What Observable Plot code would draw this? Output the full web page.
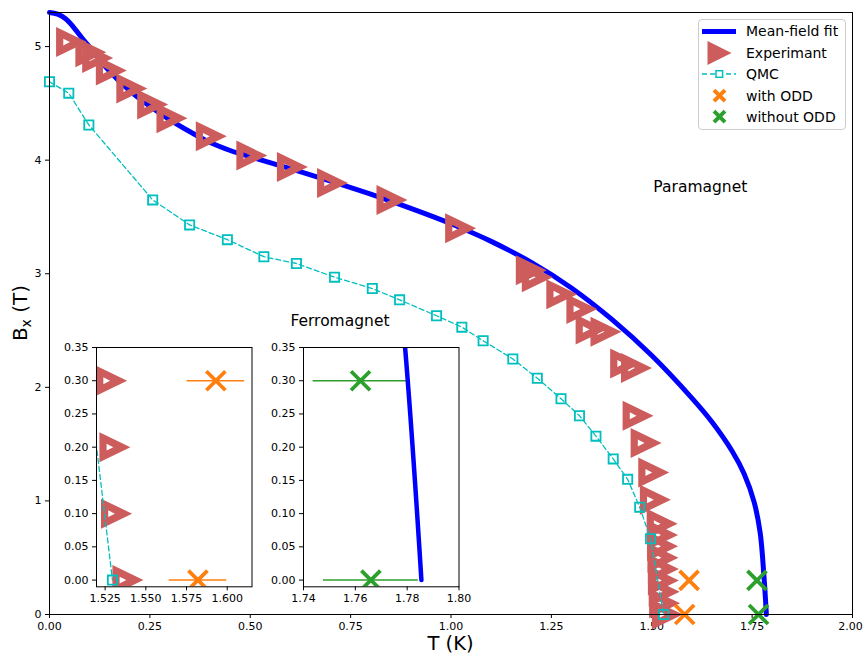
<!DOCTYPE html>
<html><head><meta charset="utf-8">
<script src="https://cdn.jsdelivr.net/npm/d3@7"></script>
<script src="https://cdn.jsdelivr.net/npm/@observablehq/plot@0.6"></script>
<style>
body{margin:0;background:#fff;font-family:"DejaVu Sans",sans-serif;}
#wrap{position:relative;width:863px;height:654px;overflow:hidden;}
#wrap svg{position:absolute;overflow:visible;}
#legend{position:absolute;left:698px;top:19px;width:146px;height:109px;border:1px solid #cccccc;border-radius:4px;background:rgba(255,255,255,0.85);}
#legend svg{position:absolute;left:0;top:0;}
</style></head><body><div id="wrap"></div>
<script>
// ---- data ----
const fitT = [0.00, 0.02, 0.04, 0.06, 0.08, 0.10, 0.125, 0.15, 0.20, 0.25, 0.30, 0.35, 0.40, 0.45, 0.50, 0.60, 0.70, 0.80, 0.90, 1.00, 1.10, 1.20, 1.30, 1.40, 1.50, 1.60, 1.65, 1.70, 1.73, 1.755, 1.77, 1.7792, 1.7855];
const fitB = [5.300, 5.285, 5.245, 5.170, 5.080, 4.995, 4.885, 4.780, 4.610, 4.475, 4.355, 4.250, 4.155, 4.085, 4.030, 3.925, 3.815, 3.700, 3.575, 3.440, 3.285, 3.100, 2.875, 2.600, 2.280, 1.905, 1.695, 1.440, 1.240, 0.990, 0.720, 0.350, 0.000];

const expT = [0.055, 0.103, 0.120, 0.154, 0.205, 0.257, 0.305, 0.403, 0.504, 0.605, 0.705, 0.853, 1.024, 1.200, 1.215, 1.276, 1.326, 1.349, 1.386, 1.435, 1.462, 1.466, 1.486, 1.505, 1.509, 1.526, 1.527, 1.527, 1.528, 1.529, 1.529, 1.531, 1.532, 1.539];
const expB = [5.04, 4.95, 4.90, 4.79, 4.63, 4.49, 4.37, 4.21, 4.04, 3.94, 3.80, 3.65, 3.40, 3.03, 2.97, 2.82, 2.69, 2.51, 2.49, 2.21, 2.17, 1.75, 1.51, 1.25, 1.01, 0.80, 0.70, 0.60, 0.50, 0.40, 0.30, 0.20, 0.10, 0.00];

const qmcT = [0.000, 0.048, 0.098, 0.257, 0.349, 0.443, 0.534, 0.615, 0.710, 0.804, 0.872, 0.964, 1.027, 1.080, 1.154, 1.215, 1.274, 1.320, 1.361, 1.404, 1.440, 1.470, 1.497, 1.5295];
const qmcB = [4.69, 4.59, 4.31, 3.65, 3.43, 3.30, 3.15, 3.09, 2.97, 2.87, 2.77, 2.63, 2.53, 2.41, 2.25, 2.08, 1.90, 1.75, 1.57, 1.37, 1.19, 0.945, 0.667, 0.00];

const oddT = [1.593, 1.582];
const oddB = [0.30, 0.00];
const oddErr = [0.0177, 0.0177];
const noOddT = [1.762, 1.766];
const noOddB = [0.30, 0.00];
const noOddErr = [0.0183, 0.0183];

const mainXTicks = [0, 0.25, 0.5, 0.75, 1.0, 1.25, 1.5, 1.75, 2.0];
const mainYTicks = [0, 1, 2, 3, 4, 5];
const inset1XTicks = [1.525, 1.55, 1.575, 1.6];
const inset2XTicks = [1.74, 1.76, 1.78, 1.80];
const insetYTicks = [0, 0.05, 0.10, 0.15, 0.20, 0.25, 0.30, 0.35];

const regionLabels = ["Paramagnet", "Ferromagnet"];
const regionT = [1.504, 0.600];
const regionB = [3.762, 2.58];

const legendLabels = ["Mean-field fit", "Experimant", "QMC", "with ODD", "without ODD"];

// ---- tables ----
const fit = fitT.map((t, i) => ({T: t, B: fitB[i]}));
const exp = expT.map((t, i) => ({T: t, B: expB[i]}));
const qmc = qmcT.map((t, i) => ({T: t, B: qmcB[i]}));
const odd = oddT.map((t, i) => ({T: t, B: oddB[i], e: oddErr[i]}));
const noOdd = noOddT.map((t, i) => ({T: t, B: noOddB[i], e: noOddErr[i]}));
const regions = regionLabels.map((s, i) => ({s, T: regionT[i], B: regionB[i]}));

// ---- symbols ----
const triSym = {draw(c) {
  c.moveTo(-15.5, -15); c.lineTo(15.5, 0); c.lineTo(-15.5, 15); c.closePath();
  c.moveTo(-8.3, 3.4); c.lineTo(-1.6, 0); c.lineTo(-8.3, -3.4); c.closePath();
}};
const sqSym = {draw(c) { c.moveTo(-4.6, -4.6); c.lineTo(4.6, -4.6); c.lineTo(4.6, 4.6); c.lineTo(-4.6, 4.6); c.closePath(); }};
const xSym = {draw(c) { c.moveTo(-9.5, -9.5); c.lineTo(9.5, 9.5); c.moveTo(-9.5, 9.5); c.lineTo(9.5, -9.5); }};

const RED = "#cd5c5c", CYAN = "#00bfbf", ORANGE = "#ff7f0e", GREEN = "#2ca02c";
const wrap = document.getElementById("wrap");

// ---- main chart ----
const main = Plot.plot({
  width: 863, height: 654,
  marginLeft: 49, marginRight: 11, marginTop: 12, marginBottom: 40,
  style: {background: "transparent", fontFamily: "DejaVu Sans", fontSize: "11px", color: "black", overflow: "visible"},
  x: {domain: [0, 2]},
  y: {domain: [0, 5.3]},
  marks: [
    Plot.axisX({ticks: mainXTicks, tickFormat: d3.format(".2f"), tickSize: 4, tickPadding: 3.5, label: null}),
    Plot.axisY({ticks: mainYTicks, tickFormat: d3.format("d"), tickSize: 4, tickPadding: 4, label: null}),
    Plot.line(fit, {x: "T", y: "B", stroke: "blue", strokeWidth: 5, curve: "catmull-rom"}),
    Plot.dot(exp, {x: "T", y: "B", symbol: triSym, fill: RED, stroke: "none"}),
    Plot.line(qmc, {x: "T", y: "B", stroke: CYAN, strokeWidth: 1.3, strokeDasharray: "5,3"}),
    Plot.dot(qmc, {x: "T", y: "B", symbol: sqSym, fill: "none", stroke: CYAN, strokeWidth: 1.8}),
    Plot.dot(odd, {x: "T", y: "B", symbol: xSym, fill: "none", stroke: ORANGE, strokeWidth: 3.8}),
    Plot.dot(noOdd, {x: "T", y: "B", symbol: xSym, fill: "none", stroke: GREEN, strokeWidth: 3.8}),
    Plot.text(regions, {x: "T", y: "B", text: "s", textAnchor: "start", fontSize: 15.5, fill: "black"}),
    Plot.frame({stroke: "black", strokeWidth: 1})
  ]
});
main.style.left = "0px"; main.style.top = "0px";
wrap.appendChild(main);

// nudge the last x tick label so it stays inside the picture
d3.select(main).selectAll("text").filter(function() { return this.textContent === "2.00"; })
  .attr("dx", -2);

// axis labels
const sm = d3.select(main);
sm.append("text").attr("x", 450.5).attr("y", 649.5).attr("text-anchor", "middle")
  .attr("font-size", 19.5).attr("font-family", "DejaVu Sans").attr("fill", "black").text("T (K)");
const yl = sm.append("text").attr("transform", "translate(27,313) rotate(-90)").attr("text-anchor", "middle")
  .attr("font-size", 20).attr("font-family", "DejaVu Sans").attr("fill", "black");
yl.append("tspan").text("B");
yl.append("tspan").attr("font-size", 14).attr("dy", 4).text("x");
yl.append("tspan").attr("dy", -4).text(" (T)");

// ---- insets ----
function inset(left, xdomain, xticks, xfmt, marks) {
  const p = Plot.plot({
    width: 45 + 155.5 + 10, height: 8 + 239.3 + 25,
    marginLeft: 45, marginRight: 10, marginTop: 8, marginBottom: 25,
    style: {background: "transparent", fontFamily: "DejaVu Sans", fontSize: "11px", color: "black", overflow: "visible"},
    x: {domain: xdomain},
    y: {domain: [-0.0101, 0.35]},
    marks: [
      Plot.frame({fill: "white", stroke: "none"}),
      Plot.axisX({ticks: xticks, tickFormat: d3.format(xfmt), tickSize: 4, tickPadding: 3.5, label: null}),
      Plot.axisY({ticks: insetYTicks, tickFormat: d3.format(".2f"), tickSize: 4, tickPadding: 4, label: null}),
      ...marks,
      Plot.frame({stroke: "black", strokeWidth: 1})
    ]
  });
  p.style.left = (left - 45) + "px";
  p.style.top = (346.7 - 8) + "px";
  wrap.appendChild(p);
}

inset(95.7, [1.5197, 1.6152], inset1XTicks, ".3f", [
  Plot.dot(exp, {x: "T", y: "B", symbol: triSym, fill: RED, stroke: "none", clip: true}),
  Plot.line(qmc, {x: "T", y: "B", stroke: CYAN, strokeWidth: 1.3, strokeDasharray: "5,3", clip: true}),
  Plot.dot(qmc, {x: "T", y: "B", symbol: sqSym, fill: "none", stroke: CYAN, strokeWidth: 1.8, clip: true}),
  Plot.ruleY(odd, {y: "B", x1: d => d.T - d.e, x2: d => d.T + d.e, stroke: ORANGE, strokeWidth: 1.5, clip: true}),
  Plot.dot(odd, {x: "T", y: "B", symbol: xSym, fill: "none", stroke: ORANGE, strokeWidth: 3.8, clip: true})
]);
inset(302.7, [1.74, 1.80], inset2XTicks, ".2f", [
  Plot.ruleY(noOdd, {y: "B", x1: d => d.T - d.e, x2: d => d.T + d.e, stroke: GREEN, strokeWidth: 1.5, clip: true}),
  Plot.line(fit, {x: "T", y: "B", stroke: "blue", strokeWidth: 4.5, curve: "catmull-rom", clip: true}),
  Plot.dot(noOdd, {x: "T", y: "B", symbol: xSym, fill: "none", stroke: GREEN, strokeWidth: 3.8, clip: true})
]);

// ---- legend ----
const lg = document.createElement("div");
lg.id = "legend";
wrap.appendChild(lg);
const ls = d3.select(lg).append("svg").attr("width", 146).attr("height", 109)
  .attr("font-family", "DejaVu Sans").attr("font-size", 14);
const rows = [11.5, 33, 54, 75.7, 96.7];
ls.append("line").attr("x1", 3).attr("x2", 37).attr("y1", rows[0]).attr("y2", rows[0]).attr("stroke", "blue").attr("stroke-width", 5);
ls.append("path").attr("d", `M8.5,${rows[1]-12}L32.5,${rows[1]}L8.5,${rows[1]+12}Z`).attr("fill", RED);
ls.append("line").attr("x1", 3).attr("x2", 37).attr("y1", rows[2]).attr("y2", rows[2]).attr("stroke", CYAN).attr("stroke-width", 1.3).attr("stroke-dasharray", "5,3");
ls.append("rect").attr("x", 17).attr("y", rows[2]-3.3).attr("width", 6.6).attr("height", 6.6).attr("fill", "white").attr("stroke", CYAN).attr("stroke-width", 1.5);
[[rows[3], ORANGE], [rows[4], GREEN]].forEach(([y, c]) => {
  ls.append("path").attr("d", `M15,${y-5.5}L26,${y+5.5}M15,${y+5.5}L26,${y-5.5}`).attr("stroke", c).attr("stroke-width", 4).attr("fill", "none");
});
legendLabels.forEach((s, i) => {
  ls.append("text").attr("x", 47).attr("y", rows[i]).attr("dy", "0.35em").attr("fill", "black").text(s);
});
</script></body></html>
